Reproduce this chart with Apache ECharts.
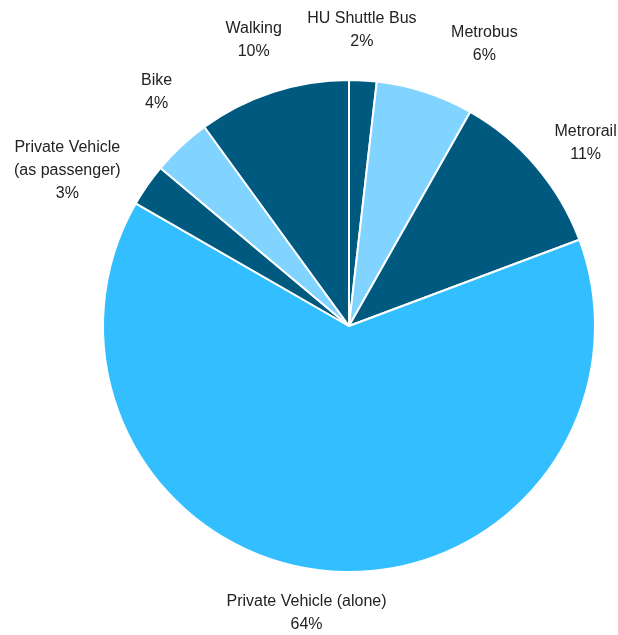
<!DOCTYPE html>
<html>
<head>
<meta charset="utf-8">
<script src="https://cdn.jsdelivr.net/npm/echarts@6/dist/echarts.min.js"></script>
<style>html,body{margin:0;padding:0;background:#fff}#c{width:618px;height:635px}</style>
</head>
<body>
<div id="c"></div>
<script>
const categories = ['HU Shuttle Bus', 'Metrobus', 'Metrorail', 'Private Vehicle (alone)', 'Private Vehicle\n(as passenger)', 'Bike', 'Walking'];
const values = [1.8, 6.4, 11.1, 64.0, 2.8, 3.9, 10.0];

const NAVY = '#005A80', LIGHT = '#80D4FF', BRIGHT = '#33BFFF';
const sliceColors = [NAVY, LIGHT, NAVY, BRIGHT, NAVY, LIGHT, NAVY];
const labelDist = [52, 66, 52, 42, 78, 58, 56];
const labelShift = [[-9, 2], [34, 15], [5, 11], [-14, 0], [-11, 30], [20, -12], [3, 1]];

const chart = echarts.init(document.getElementById('c'));
chart.setOption({
  animation: false,
  series: [{
    type: 'pie',
    center: [349, 326],
    radius: 246,
    startAngle: 90,
    clockwise: true,
    avoidLabelOverlap: false,
    percentPrecision: 0,
    itemStyle: { borderColor: '#fff', borderWidth: 2 },
    label: {
      show: true,
      position: 'outside',
      formatter: '{b}\n{d}%',
      fontFamily: '"Liberation Sans Narrow", "Arial Narrow", "Liberation Sans", sans-serif',
      fontSize: 16,
      lineHeight: 23,
      color: '#222',
      align: 'center'
    },
    labelLine: { show: false, length: 52, length2: 0 },
    labelLayout: function (p) {
      const s = labelShift[p.dataIndex];
      return { align: 'center', verticalAlign: 'middle', dx: s[0], dy: s[1] };
    },
    emphasis: { disabled: true },
    data: categories.map((c, i) => ({
      name: c,
      value: values[i],
      itemStyle: { color: sliceColors[i] },
      labelLine: { show: false, length: labelDist[i], length2: 0 }
    }))
  }]
});
</script>
</body>
</html>
